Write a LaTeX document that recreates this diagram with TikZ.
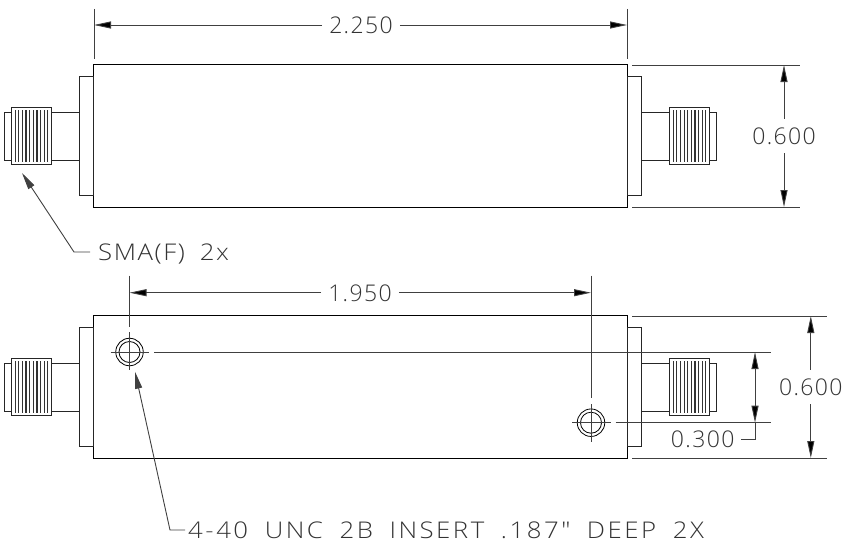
\documentclass[tikz,border=0pt]{standalone}
\usepackage{fontspec}
\setmainfont{Open Sans Light}[LetterSpace=6,WordSpace=1.6]
\newfontfamily\notefont{Open Sans Light}[FakeStretch=1.12,LetterSpace=7,WordSpace=1.8]
\newfontfamily\widenotefont{Open Sans Light}[FakeStretch=1.12,LetterSpace=11,WordSpace=1.8]
\usepackage{tikz}
\usetikzlibrary{arrows.meta}
\usetikzlibrary{positioning}

\begin{document}
\begin{tikzpicture}[x=1pt,y=-1pt,>={Triangle[length=17pt,width=7pt]},
	part line/.style={line width=1pt,draw=black!85},
	dim line/.style={line width=0.9pt,draw=black!75},
	dim text/.style={font=\fontsize{23}{23}\selectfont,text=black!80,text height=17pt,text depth=0pt,inner xsep=7pt,inner ysep=8.5pt},
	note text/.style={dim text,font=\fontsize{23}{23}\notefont,anchor=west},
	sma connector/.pic={
		\draw[part line] (-14.5,-59.5) rectangle (0,59.5);
		\draw[part line] (-42,-24) rectangle (-14.5,24);
		\draw[part line] (-89.5,-24) rectangle (-82,24);
		\draw[part line,fill=white] (-82,-28.7) rectangle (-42,28.7);
		\foreach \ribx in {0,...,9}
			\draw[line width=1.2pt,draw=black!80] ({-46-\ribx*3.63},-26) -- ({-46-\ribx*3.63},26);
	}]
	\useasboundingbox (0,0) rectangle (842,543);
	
	% upper view
	\node[draw=none,inner sep=0pt] (upper body) at (360.5,136) [minimum width=533pt,minimum height=142pt] {};
	\draw[line width=1pt] (upper body.north west) rectangle (upper body.south east);
	\pic at (upper body.west) {sma connector};
	\pic[xscale=-1] at (upper body.east) {sma connector};
	
	\node[dim text] (width dim) at (361,25) {2.250};
	\node[dim text] (upper height dim) at (784,136) {0.600};
	\node[note text,inner xsep=8pt] (sma note) at (90,252) {SMA(F) 2x};
	
	\coordinate (width left) at (94,25);
	\coordinate (width right) at (627,25);
	\coordinate (upper height top) at (784,65);
	\coordinate (upper height bottom) at (784,207);
	\coordinate (sma corner) at (74,252);
	\coordinate (sma tip) at (22,173);
	
	\draw[dim line] (94,9) -- (94,59);
	\draw[dim line] (627,9) -- (627,59);
	\draw[dim line] (632,65) -- (800,65);
	\draw[dim line] (632,207) -- (800,207);
	
	\path[dim line]
	(width dim) edge [->] (width left)
	(width dim) edge [->] (width right)
	(upper height dim) edge [->] (upper height top)
	(upper height dim) edge [->] (upper height bottom);
	\draw[dim line,->] (sma note.west) -- (sma corner) -- (sma tip);
	
	% lower view
	\node[draw=none,inner sep=0pt] (lower body) at (360.5,387) [minimum width=533pt,minimum height=142pt] {};
	\draw[line width=1pt] (lower body.north west) rectangle (lower body.south east);
	\pic at (lower body.west) {sma connector};
	\pic[xscale=-1] at (lower body.east) {sma connector};
	
	\node[draw,line width=0.8pt,circle,minimum size=27.5pt,inner sep=0pt] (left hole) at (129.5,352) {};
	\node[draw,line width=0.8pt,circle,minimum size=21pt,inner sep=0pt] at (left hole) {};
	\node[draw,line width=0.8pt,circle,minimum size=27.5pt,inner sep=0pt] (right hole) at (591,422.7) {};
	\node[draw,line width=0.8pt,circle,minimum size=21pt,inner sep=0pt] at (right hole) {};
	
	\draw[dim line] (110.7,352) -- (149,352);
	\draw[dim line] (129.5,332) -- (129.5,370);
	\draw[dim line] (572,422.7) -- (611,422.7);
	\draw[dim line] (591,404) -- (591,441.7);
	\draw[dim line] (129.5,275.5) -- (129.5,326.7);
	\draw[dim line] (591,275.5) -- (591,397.7);
	\draw[dim line] (154,352) -- (771,352);
	\draw[dim line] (615.7,422.7) -- (771,422.7);
	\draw[dim line] (632,316) -- (827,316);
	\draw[dim line] (632,458) -- (827,458);
	
	\node[dim text] (span dim) at (360,292.7) {1.950};
	\node[dim text,inner xsep=6pt] (offset dim) at (702.7,439) {0.300};
	\node[dim text] (lower height dim) at (810.8,387) {0.600};
	\node[note text,font=\fontsize{23}{23}\widenotefont,inner xsep=3pt] (insert note) at (185,530) {4-40 UNC 2B INSERT .187" DEEP 2X};
	
	\coordinate (span left) at (129.5,292.7);
	\coordinate (span right) at (591,292.7);
	\coordinate (offset top) at (755,352);
	\coordinate (offset bottom) at (755,422.7);
	\coordinate (lower height top) at (810.8,316);
	\coordinate (lower height bottom) at (810.8,458);
	\coordinate (insert corner) at (170,530);
	\coordinate (insert tip) at (135,371.7);
	
	\path[dim line]
	(span dim) edge [->] (span left)
	(span dim) edge [->] (span right)
	(lower height dim) edge [->] (lower height top)
	(lower height dim) edge [->] (lower height bottom)
	(offset top) edge [<->] (offset bottom);
	\draw[dim line] (offset bottom) |- (offset dim.east);
	\draw[dim line,->] (insert note.west) -- (insert corner) -- (insert tip);
\end{tikzpicture}
\end{document}
